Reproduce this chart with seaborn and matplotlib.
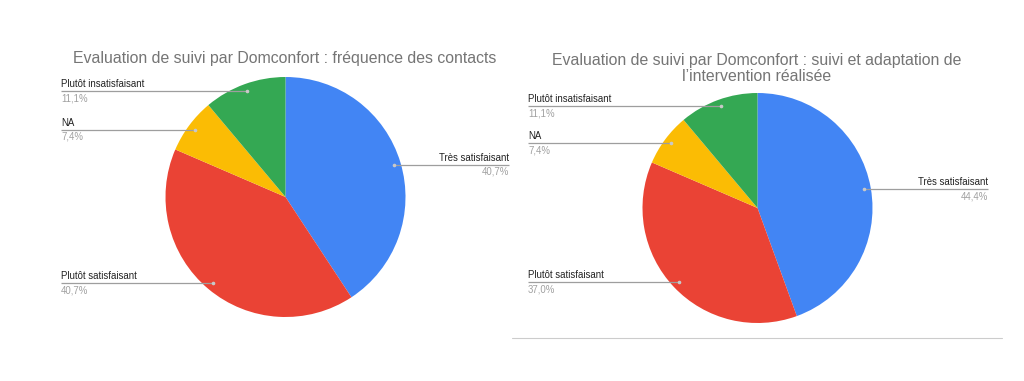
import numpy as np
import matplotlib
matplotlib.use("Agg")
import matplotlib.pyplot as plt
import seaborn as sns
from matplotlib.lines import Line2D

# data
categories = ["Très satisfaisant", "Plutôt satisfaisant", "NA", "Plutôt insatisfaisant"]
pct_contacts = [40.7, 40.7, 7.4, 11.1]
pct_adaptation = [44.4, 37.0, 7.4, 11.1]
title_contacts = "Evaluation de suivi par Domconfort : fréquence des contacts"
title_adaptation = "Evaluation de suivi par Domconfort : suivi et adaptation de\nl’intervention réalisée"

sns.set_style("white")
plt.rcParams['font.family'] = ['Liberation Sans', 'DejaVu Sans']
colors = sns.color_palette(["#4285F4", "#EA4335", "#FBBC04", "#34A853"])

W, H = 1024, 381
fig = plt.figure(figsize=(W / 100, H / 100), dpi=100)


def draw_pie(cx, cy, r, values, xl, xr):
    ax = fig.add_axes([(cx - r) / W, (H - cy - r) / H, 2 * r / W, 2 * r / H])
    wedges, _ = ax.pie(values, colors=colors, startangle=90, counterclock=False,
                       radius=1, wedgeprops=dict(linewidth=0))
    ax.set_xlim(-1, 1)
    ax.set_ylim(-1, 1)
    ax.set_aspect("equal")
    ax.axis("off")
    for w, lab, v in zip(wedges, categories, values):
        ang = np.deg2rad((w.theta1 + w.theta2) / 2)
        dx, dy = 0.94 * np.cos(ang), 0.94 * np.sin(ang)
        x_end = xr if dx > 0 else xl
        ax.plot([dx, x_end], [dy, dy], color="#9e9e9e", lw=0.9, clip_on=False,
                solid_capstyle="butt")
        ax.plot(dx, dy, "o", ms=1.6, color="#c8c8c8", clip_on=False)
        ha = "right" if dx > 0 else "left"
        ax.annotate(lab, (x_end, dy), xytext=(0, 1.5), textcoords="offset points",
                    ha=ha, va="bottom", fontsize=6.9, color="#222222",
                    annotation_clip=False)
        ax.annotate(f"{v:.1f}%".replace(".", ","), (x_end, dy), xytext=(0, -1.5),
                    textcoords="offset points", ha=ha, va="top", fontsize=6.9,
                    color="#a0a0a0", annotation_clip=False)
    return ax


draw_pie(285.5, 197, 120, pct_contacts, (61 - 285.5) / 120, (509 - 285.5) / 120)
draw_pie(757.5, 208, 115, pct_adaptation, (528 - 757.5) / 115, (988 - 757.5) / 115)

fig.text(285 / W, 1 - 59 / H, title_contacts, ha="center", va="center",
         fontsize=11.4, color="#757575")
fig.text(757 / W, 1 - 68.5 / H, title_adaptation, ha="center", va="center",
         fontsize=11.4, color="#757575", linespacing=1.15)

fig.add_artist(Line2D([512 / W, 1002 / W], [1 - 338 / H, 1 - 338 / H],
                      color="#cccccc", lw=0.8))

fig.savefig("out.png", dpi=100, facecolor="white")
